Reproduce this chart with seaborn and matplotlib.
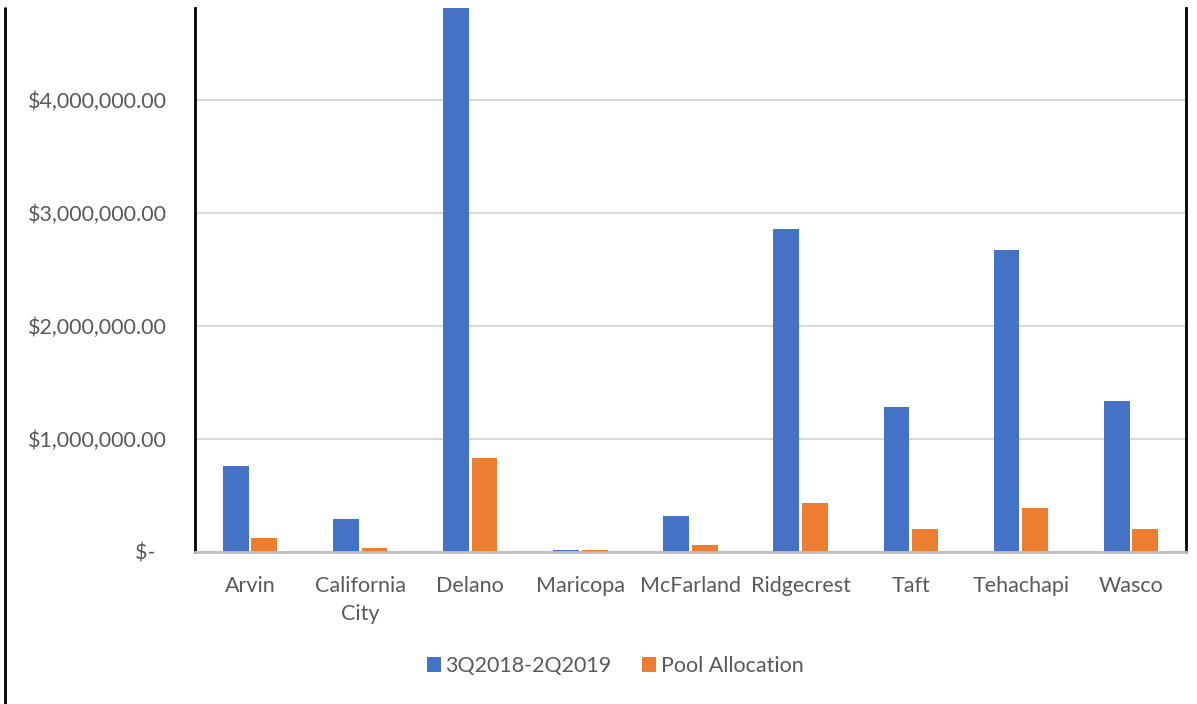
import pandas as pd
import matplotlib.pyplot as plt
import seaborn as sns
from matplotlib.lines import Line2D
from matplotlib.ticker import FuncFormatter

# data
cities = ['Arvin', 'California\nCity', 'Delano', 'Maricopa', 'McFarland',
          'Ridgecrest', 'Taft', 'Tehachapi', 'Wasco']
period_values = [760000, 292000, 5000000, 18000, 319000,
                 2858000, 1283000, 2673000, 1336000]
pool_values = [124000, 35000, 832000, 20000, 62000,
               434000, 204000, 390000, 204000]
series_names = ['3Q2018-2Q2019', 'Pool Allocation']

df = pd.DataFrame({
    'City': cities * 2,
    'Value': period_values + pool_values,
    'Series': [series_names[0]] * len(cities) + [series_names[1]] * len(cities),
})

sns.set_theme(style='white')
plt.rcParams['font.family'] = ['Lato', 'DejaVu Sans']

fig = plt.figure(figsize=(11.97, 7.04), dpi=100)
ax = fig.add_axes([195 / 1197, 1 - 552 / 704, (1186 - 195) / 1197, (552 - 8) / 704])

sns.barplot(data=df, x='City', y='Value', hue='Series', ax=ax,
            palette=['#4472C4', '#ED7D31'], width=0.52, gap=0.1,
            saturation=1, linewidth=0)

ax.set_ylim(0, 4.81e6)
ax.set_yticks([0, 1e6, 2e6, 3e6, 4e6])


def money(v, pos):
    if v == 0:
        return '$-  '
    return '${:,.2f}'.format(v)


ax.yaxis.set_major_formatter(FuncFormatter(money))
ax.grid(axis='y', color='#d9d9d9', linewidth=1.5)
ax.set_axisbelow(True)
ax.set_xlabel('')
ax.set_ylabel('')
ax.tick_params(axis='both', length=0, labelsize=15.5, labelcolor='#595959')
ax.tick_params(axis='y', pad=20.5)
ax.tick_params(axis='x', pad=17)
for lbl in ax.get_xticklabels():
    lbl.set_linespacing(1.55)

ax.spines['top'].set_visible(False)
ax.spines['left'].set_color('black')
ax.spines['left'].set_linewidth(2)
ax.spines['right'].set_color('black')
ax.spines['right'].set_linewidth(2)
ax.spines['bottom'].set_color('#bfbfbf')
ax.spines['bottom'].set_linewidth(2)

# outer border line on the far left
fig.add_artist(Line2D([5 / 1197, 5 / 1197], [0, 1 - 8 / 704],
                      color='black', linewidth=2, transform=fig.transFigure))

handles, labels = ax.get_legend_handles_labels()
ax.legend(handles, labels, loc='center', bbox_to_anchor=(615 / 1197, 1 - 666 / 704),
          bbox_transform=fig.transFigure, ncol=2, frameon=False,
          fontsize=15.5, labelcolor='#595959', handlelength=0.65, handleheight=0.65,
          handletextpad=0.2, columnspacing=1.45)

fig.savefig('out.png', dpi=100)
